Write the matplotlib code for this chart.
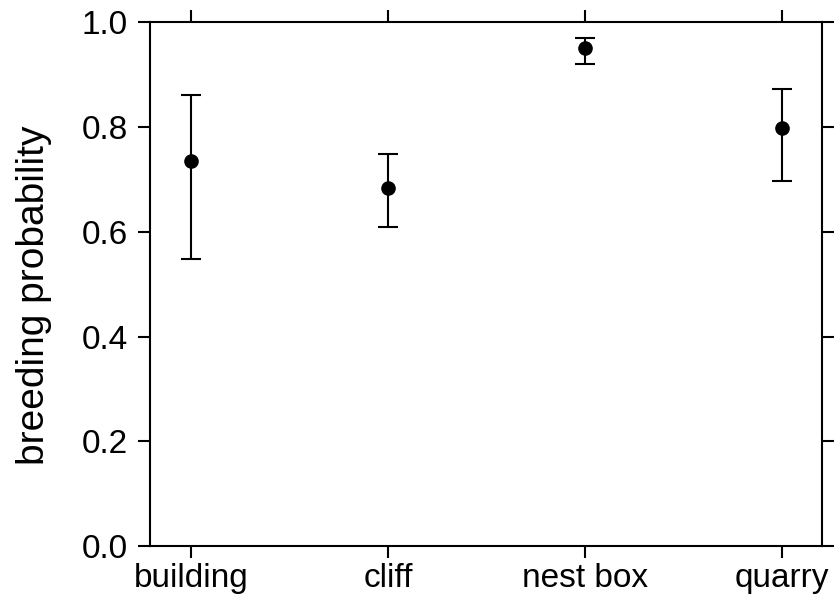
import matplotlib
matplotlib.use('Agg')
import matplotlib.pyplot as plt

plt.rcParams['font.family'] = ['Liberation Sans', 'DejaVu Sans']

# nest site types and breeding probability estimates with 95% CI
sites = ['building', 'cliff', 'nest box', 'quarry']
estimate = [0.735, 0.684, 0.951, 0.798]
lower = [0.548, 0.609, 0.921, 0.697]
upper = [0.862, 0.749, 0.970, 0.873]

yerr = [[e - l for e, l in zip(estimate, lower)],
        [u - e for e, u in zip(estimate, upper)]]

fig = plt.figure(figsize=(8.38, 6.07), dpi=100)
ax = fig.add_axes([0.179, 0.1005, 0.802, 0.8625])

x = list(range(len(sites)))
ax.errorbar(x, estimate, yerr=yerr, fmt='o', color='black', ms=9.5,
            elinewidth=1.5, capsize=7.5, capthick=1.5)

ax.set_xlim(-0.208, 3.203)
ax.set_ylim(0, 1.0)
ax.set_xticks(x)
ax.set_xticklabels(sites)
ax.set_yticks([0, 0.2, 0.4, 0.6, 0.8, 1.0])
ax.set_yticklabels(['0.0', '0.2', '0.4', '0.6', '0.8', '1.0'])

for s in ax.spines.values():
    s.set_linewidth(1.5)
ax.tick_params(direction='out', length=8.5, width=1.5, labelsize=24,
               top=True, right=True)
ax.tick_params(axis='x', pad=4)
ax.tick_params(axis='y', pad=7.5)
ax.set_ylabel('breeding probability', fontsize=28)
ax.yaxis.set_label_coords(-0.146, 0.478)

plt.savefig('out.png', dpi=100)
